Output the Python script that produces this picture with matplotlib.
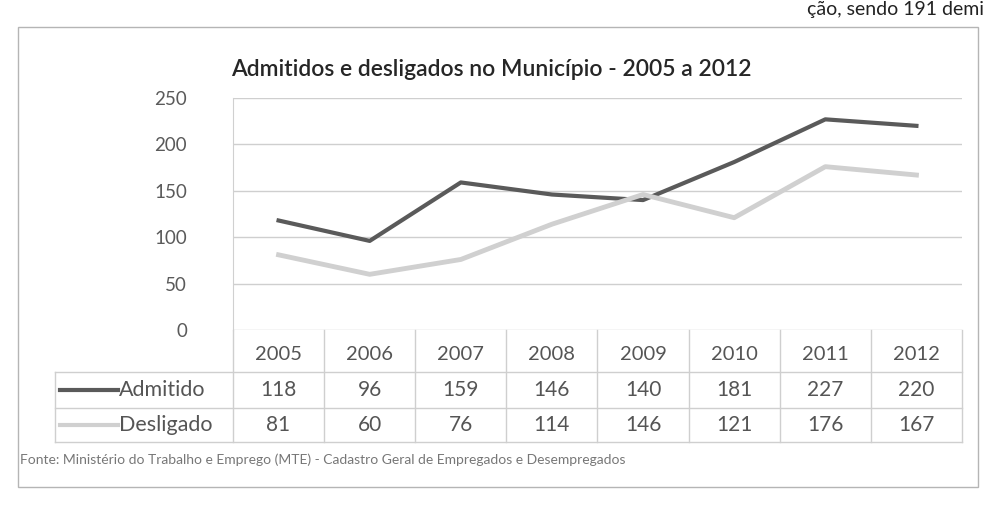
import matplotlib
matplotlib.use("Agg")
import matplotlib.pyplot as plt
from matplotlib.patches import Rectangle
from matplotlib.lines import Line2D
import matplotlib.transforms as mtransforms

years = ["2005", "2006", "2007", "2008", "2009", "2010", "2011", "2012"]
admitido = [118, 96, 159, 146, 140, 181, 227, 220]
desligado = [81, 60, 76, 114, 146, 121, 176, 167]
series_names = ["Admitido", "Desligado"]
yticks = [0, 50, 100, 150, 200, 250]
title = "Admitidos e desligados no Município - 2005 a 2012"
source = "Fonte: Ministério do Trabalho e Emprego (MTE) - Cadastro Geral de Empregados e Desempregados"
page_text = "ção, sendo 191 demi"

FONT = ["Lato", "DejaVu Sans"]
W, H = 987, 515
fig = plt.figure(figsize=(W / 100, H / 100), dpi=100)
fig.patch.set_facecolor("white")

def fx(px):
    return px / W

def fy(py):
    return 1 - py / H

# outer chart border
fig.add_artist(Rectangle((fx(18), fy(487)), fx(978) - fx(18), fy(27) - fy(487),
                         transform=fig.transFigure, fill=False, ec="#b5b5b5", lw=1.0))
# text of the page above the chart (top right)
fig.text(fx(984), fy(1), page_text, fontsize=14, color="#222222",
         family=FONT, va="top", ha="right")

left, right, top, bottom = 233, 962, 98, 330
ax = fig.add_axes([fx(left), fy(bottom), fx(right) - fx(left), fy(top) - fy(bottom)])
n = len(years)
x = list(range(n))
ax.set_xlim(-0.5, n - 0.5)
ax.set_ylim(0, 250)
ax.set_yticks(yticks)
ax.set_yticklabels([str(v) for v in yticks], family=FONT, fontsize=13.5, color="#5a5a5a")
ax.tick_params(axis="y", length=0, pad=33)
ax.set_xticks([])
for s in ["top", "right", "bottom"]:
    ax.spines[s].set_visible(False)
ax.spines["left"].set_color("#d0d0d0")
ax.grid(axis="y", color="#cfcfcf", lw=1.0)
ax.set_axisbelow(True)

colors = ["#5a5a5a", "#d0d0d0"]
ax.plot(x, admitido, color=colors[0], lw=3)
ax.plot(x, desligado, color=colors[1], lw=3.5)

fig.text(fx(491), fy(70), title, ha="center", va="center", fontsize=16.5,
         family=FONT, color="#262626", weight="semibold")

# data table below axes
trans = mtransforms.blended_transform_factory(ax.transData, fig.transFigure)
row_lines = [372, 408, 442]
tl_x = 55
for py in row_lines:
    fig.add_artist(Line2D([fx(tl_x), fx(right)], [fy(py), fy(py)], transform=fig.transFigure,
                          color="#cfcfcf", lw=1.0))
for i in range(n + 1):
    fig.add_artist(Line2D([i - 0.5, i - 0.5], [fy(bottom), fy(442)], transform=trans,
                          color="#cfcfcf", lw=1.0))
fig.add_artist(Line2D([fx(tl_x), fx(tl_x)], [fy(372), fy(442)], transform=fig.transFigure,
                      color="#cfcfcf", lw=1.0))

for i, yr in enumerate(years):
    fig.text(i, fy(354), yr, transform=trans, ha="center", va="center",
             fontsize=14.5, family=FONT, color="#555555")

rows = [admitido, desligado]
row_y = [390, 425]
for r, (vals, name) in enumerate(zip(rows, series_names)):
    yy = fy(row_y[r])
    fig.add_artist(Line2D([fx(60), fx(118)], [yy, yy], transform=fig.transFigure,
                          color=colors[r], lw=3))
    fig.text(fx(119), yy, name, ha="left", va="center", fontsize=15.5, family=FONT,
             color="#555555")
    for i, v in enumerate(vals):
        fig.text(i, yy, str(v), transform=trans, ha="center", va="center",
                 fontsize=15, family=FONT, color="#555555")

fig.text(fx(20), fy(460), source, ha="left", va="center", fontsize=10,
         family=FONT, color="#777777")

fig.savefig("out.png", dpi=100, facecolor="white")
